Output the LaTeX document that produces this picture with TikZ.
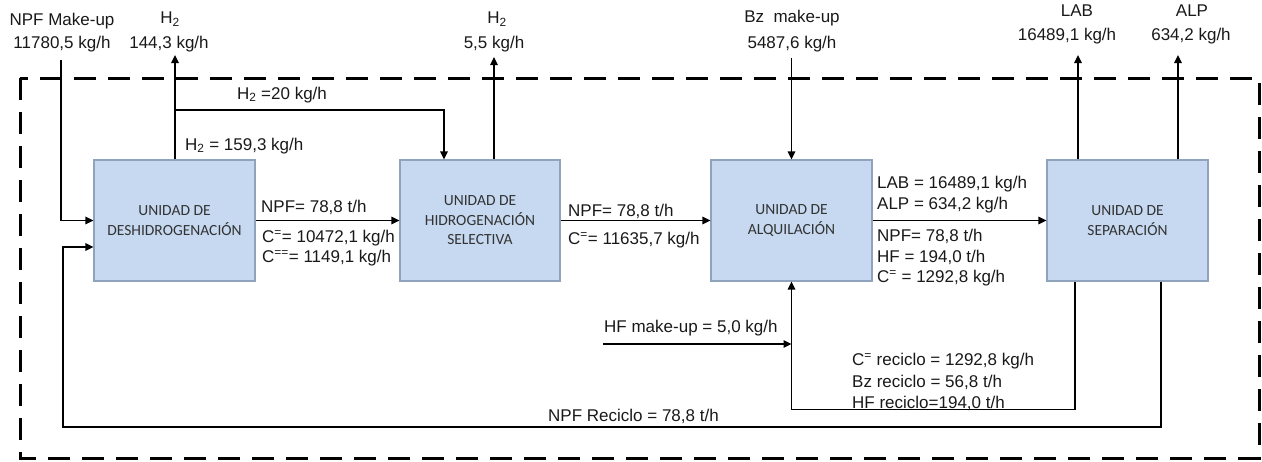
\documentclass[tikz,border=0pt]{standalone}
\usepackage{fontspec}
\setmainfont{Liberation Sans}
\newfontfamily\boxfont{Carlito}
\usetikzlibrary{arrows.meta,calc}
\definecolor{boxfill}{HTML}{C6D9F1}
\definecolor{boxline}{HTML}{8FA3BC}
\begin{document}
\begin{tikzpicture}[x=1pt,y=-1pt,
  unit/.style={draw=boxline, line width=1.2pt, fill=boxfill, minimum width=161pt, minimum height=121pt, inner sep=0pt, align=center, font=\boxfont\fontsize{15.5}{19.5}\selectfont, text=black!80},
  flow/.style={line width=1.3pt, -{Triangle[length=8pt,width=7.5pt]}},
  pipe/.style={line width=1.3pt},
  lbl/.style={inner sep=0pt, font=\fontsize{17}{21}\selectfont, text=black!90},
  lw/.style={lbl, anchor=west},
  frame/.style={line width=3pt, dash pattern=on 22pt off 12pt}
]
\useasboundingbox (0,0) rectangle (1262,461);

% battery limit
\draw[frame] (20,78) rectangle (1259,458);

% units
\node[unit] (b1) at (174.5,220.5) {UNIDAD DE\\DESHIDROGENACIÓN};
\node[unit, minimum width=160pt] (b2) at (480,220.5) {UNIDAD DE\\HIDROGENACIÓN\\SELECTIVA};
\node[unit] (b3) at (791.5,220.5) {UNIDAD DE\\ALQUILACIÓN};
\node[unit] (b4) at (1127.5,220.5) {UNIDAD DE\\SEPARACIÓN};

% free ends
\coordinate (mk) at (61,60);
\coordinate (h1) at (175,55);
\coordinate (hb) at (175,110);
\coordinate (hc) at (444,110);
\coordinate (h2) at (494,57);
\coordinate (bz) at (791.5,58);
\coordinate (lab) at (1078,55);
\coordinate (alp) at (1178,55);
\coordinate (hf) at (603,344);
\coordinate (r1) at (1075,409.5);
\coordinate (r2) at (1161,427);
\coordinate (rl) at (63,427);

% main line
\draw[flow] (b1.east) -- (b2.west);
\draw[flow] (b2.east) -- (b3.west);
\draw[flow] (b3.east) -- (b4.west);

% feeds and products
\draw[flow] (mk) |- (b1.west);
\draw[flow] (h1 |- b1.north) -- (h1);
\draw[flow] (hb) -- (hc) -- (hc |- b2.north);
\draw[flow] (h2 |- b2.north) -- (h2);
\draw[flow] (bz) -- (b3.north);
\draw[flow] (lab |- b4.north) -- (lab);
\draw[flow] (alp |- b4.north) -- (alp);
\draw[flow] (hf) -- (hf -| b3.south);

% recycles
\draw[flow] (r1 |- b4.south) -- (r1) -| (b3.south);
\draw[flow] (r2 |- b4.south) -- (r2) -- (rl) |- ($(b1.west)+(0,26.5)$);

% top labels
\node[lbl] (t1) at (62,21) {NPF Make-up};
\node[lbl] (t2) at (62,44) {11780,5 kg/h};
\node[lbl] (t3) at (170,19) {H\textsubscript{2}};
\node[lbl] (t4) at (169,44) {144,3 kg/h};
\node[lbl] (t5) at (497,19) {H\textsubscript{2}};
\node[lbl] (t6) at (494,44) {5,5 kg/h};
\node[lbl] (t7) at (792,18) {Bz\ \ make-up};
\node[lbl] (t8) at (792,44) {5487,6 kg/h};
\node[lbl] (t9) at (1077,11) {LAB};
\node[lbl] (t10) at (1067,36) {16489,1 kg/h};
\node[lbl] (t11) at (1192,11) {ALP};
\node[lbl] (t12) at (1191,36) {634,2 kg/h};

% hydrogen labels
\node[lbl] (l1) at (282,95) {H\textsubscript{2} =20 kg/h};
\node[lw] (l2) at (185,146) {H\textsubscript{2} = 159,3 kg/h};

% stream labels
\node[lw] (s1) at (261,207) {NPF= 78,8 t/h};
\node[lw] (s2) at (262,238) {C\textsuperscript{=}= 10472,1 kg/h};
\node[lw] (s3) at (262,258) {C\textsuperscript{==}= 1149,1 kg/h};
\node[lw] (s4) at (568,211) {NPF= 78,8 t/h};
\node[lw] (s5) at (568,240) {C\textsuperscript{=}= 11635,7 kg/h};
\node[lw] (s6) at (877,184) {LAB = 16489,1 kg/h};
\node[lw] (s7) at (877,205) {ALP = 634,2 kg/h};
\node[lw] (s8) at (877,236) {NPF= 78,8 t/h};
\node[lw] (s9) at (877,257) {HF = 194,0 t/h};
\node[lw] (s10) at (877,278) {C\textsuperscript{=} = 1292,8 kg/h};

% recycle labels
\node[lw] (r1a) at (604,328) {HF make-up = 5,0 kg/h};
\node[lw] (r1b) at (852,361) {C\textsuperscript{=} reciclo = 1292,8 kg/h};
\node[lw] (r1c) at (852,382) {Bz reciclo = 56,8 t/h};
\node[lw] (r1d) at (852,403) {HF reciclo=194,0 t/h};
\node[lw] (r2a) at (548,416) {NPF Reciclo = 78,8 t/h};
\end{tikzpicture}
\end{document}
